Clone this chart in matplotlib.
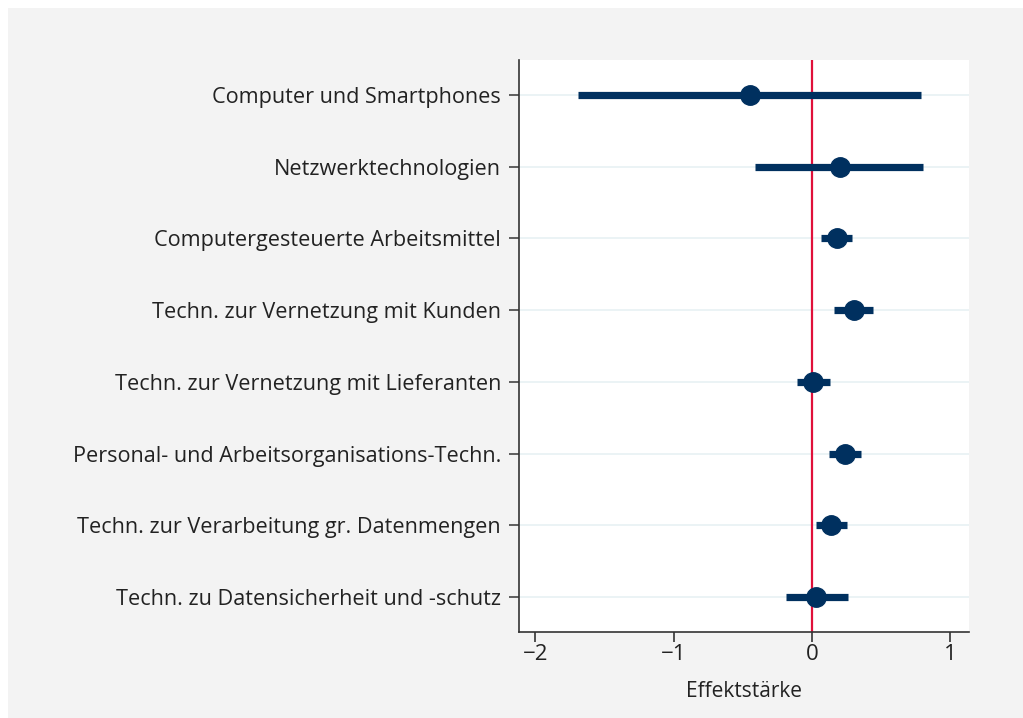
import matplotlib
matplotlib.use("Agg")
import matplotlib.pyplot as plt
from matplotlib.patches import Rectangle

plt.rcParams['font.family'] = ['Open Sans', 'DejaVu Sans']

# Effektstärken mit Konfidenzintervallen
labels = [
    "Computer und Smartphones",
    "Netzwerktechnologien",
    "Computergesteuerte Arbeitsmittel",
    "Techn. zur Vernetzung mit Kunden",
    "Techn. zur Vernetzung mit Lieferanten",
    "Personal- und Arbeitsorganisations-Techn.",
    "Techn. zur Verarbeitung gr. Datenmengen",
    "Techn. zu Datensicherheit und -schutz",
]
effekt = [-0.45, 0.20, 0.18, 0.30, 0.01, 0.24, 0.14, 0.03]
ci_low = [-1.69, -0.41, 0.065, 0.16, -0.11, 0.12, 0.025, -0.19]
ci_high = [0.79, 0.80, 0.29, 0.44, 0.13, 0.35, 0.255, 0.26]
xticks = [-2, -1, 0, 1]

navy = "#00305f"
red = "#e0103a"
txt = "#222222"

fig = plt.figure(figsize=(10.23, 7.18), dpi=100, facecolor="white")
fig.patches.append(Rectangle((8 / 1023, 0), 1 - 8 / 1023, 1 - 8 / 718,
                             transform=fig.transFigure, facecolor="#f3f3f3",
                             edgecolor="none", zorder=-10))

ax = fig.add_axes([519 / 1023, 1 - 632 / 718, (969 - 519) / 1023, (632 - 60) / 718])
ax.set_facecolor("white")

y = list(range(1, len(labels) + 1))
for yi in y:
    ax.axhline(yi, color="#e8f1f3", lw=1.2, zorder=0)
ax.axvline(0, color=red, lw=1.6, zorder=1)

ax.hlines(y, ci_low, ci_high, color=navy, lw=5.2, zorder=2)
ax.plot(effekt, y, "o", color=navy, ms=14, zorder=3)

ax.set_xlim(-2.118, 1.134)
ax.set_ylim(8.49, 0.51)
ax.set_yticks(y)
ax.set_yticklabels(labels, fontsize=15.6, color=txt)
ax.set_xticks(xticks)
ax.set_xticklabels(["\u22122", "\u22121", "0", "1"], fontsize=16, color=txt)
ax.set_xlabel("Effektstärke", fontsize=15, color=txt, labelpad=11)

for side in ["top", "right"]:
    ax.spines[side].set_visible(False)
for side in ["left", "bottom"]:
    ax.spines[side].set_color("#333333")
    ax.spines[side].set_linewidth(1.2)
ax.tick_params(axis="y", length=7, width=1.2, color="#444444", pad=6)
ax.tick_params(axis="x", length=7, width=1.2, color="#333333", pad=2)

fig.savefig("out.png", dpi=100, facecolor=fig.get_facecolor())
